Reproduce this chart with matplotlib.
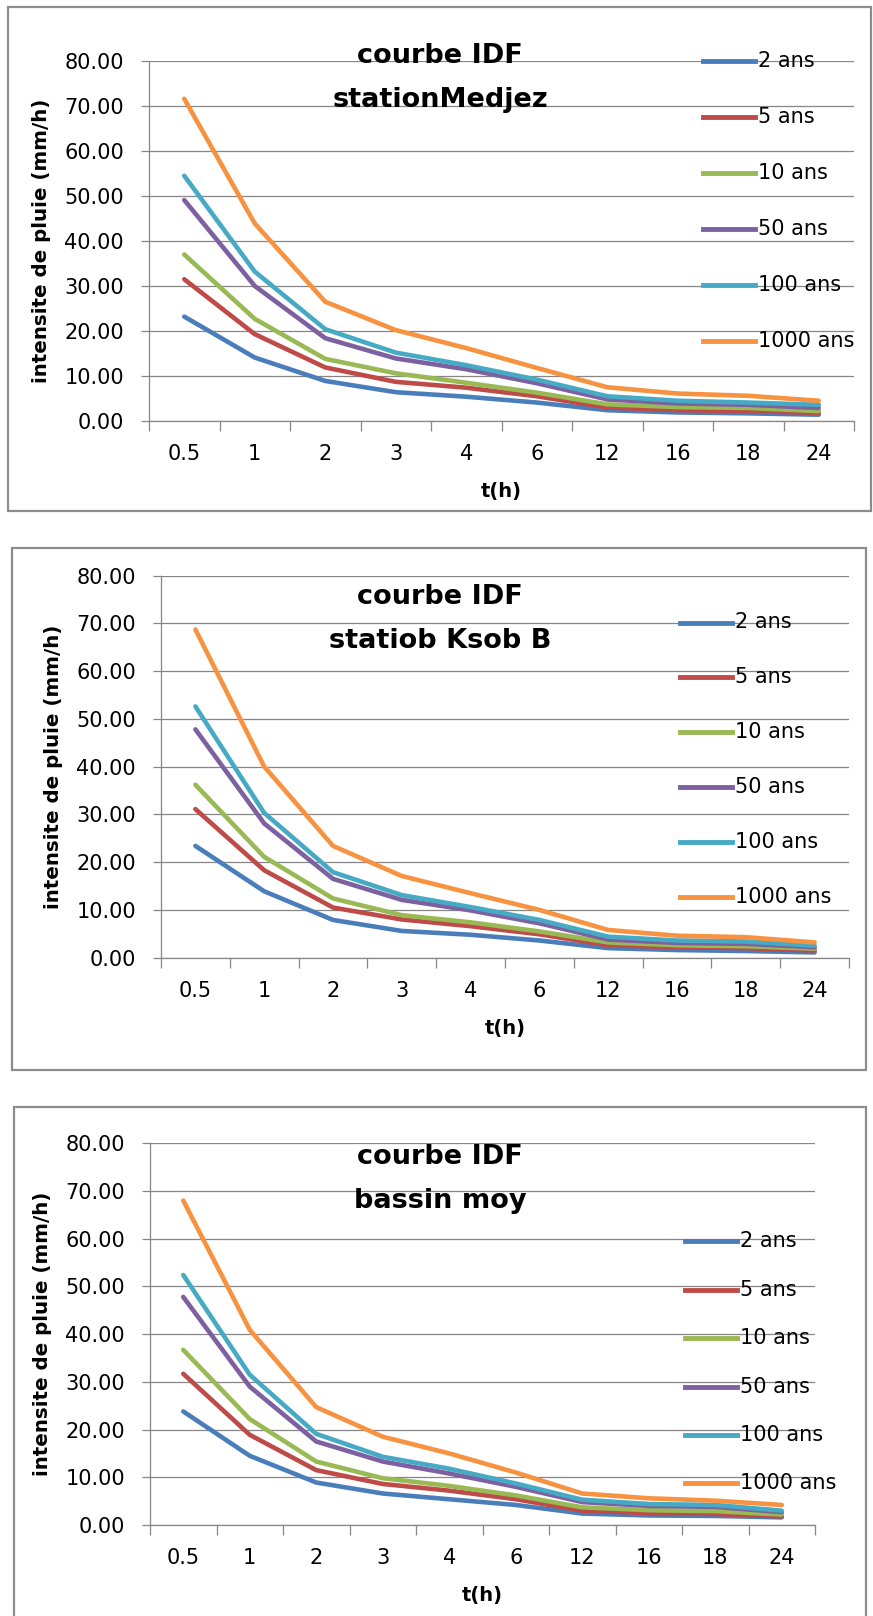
import matplotlib
matplotlib.use('Agg')
import matplotlib.pyplot as plt
from matplotlib.patches import Rectangle
from matplotlib.lines import Line2D
from matplotlib.ticker import FormatStrFormatter
import numpy as np

durations = ['0.5', '1', '2', '3', '4', '6', '12', '16', '18', '24']
periods = ['2 ans', '5 ans', '10 ans', '50 ans', '100 ans', '1000 ans']

medjez = [
    [23.2, 14.1, 8.9, 6.4, 5.4, 4.1, 2.4, 1.9, 1.7, 1.4],
    [31.5, 19.3, 11.9, 8.7, 7.4, 5.5, 3.0, 2.4, 2.2, 1.8],
    [37.0, 22.7, 13.8, 10.6, 8.5, 6.3, 3.7, 3.1, 2.9, 2.2],
    [49.1, 30.0, 18.4, 13.9, 11.5, 8.4, 4.8, 3.9, 3.6, 2.9],
    [54.5, 33.2, 20.4, 15.2, 12.4, 9.2, 5.5, 4.5, 4.1, 3.6],
    [71.6, 43.9, 26.5, 20.2, 16.2, 11.8, 7.5, 6.1, 5.6, 4.5],
]
ksob = [
    [23.4, 13.9, 7.9, 5.6, 4.8, 3.6, 2.0, 1.6, 1.4, 1.1],
    [31.1, 18.3, 10.5, 8.0, 6.6, 4.9, 2.6, 2.2, 2.0, 1.5],
    [36.2, 21.1, 12.4, 8.9, 7.4, 5.5, 3.2, 2.6, 2.4, 1.9],
    [47.8, 28.1, 16.5, 12.1, 9.9, 7.2, 3.8, 3.1, 2.9, 2.2],
    [52.6, 30.3, 17.9, 13.1, 10.6, 7.9, 4.4, 3.6, 3.4, 2.5],
    [68.7, 40.0, 23.4, 17.1, 13.5, 10.0, 5.8, 4.6, 4.3, 3.2],
]
bassin_moy = [
    [23.8, 14.5, 8.9, 6.6, 5.4, 4.2, 2.4, 2.0, 1.9, 1.6],
    [31.7, 18.9, 11.5, 8.6, 7.2, 5.4, 3.0, 2.5, 2.3, 1.8],
    [36.7, 22.2, 13.3, 9.8, 8.2, 6.2, 3.7, 3.1, 2.9, 2.2],
    [47.8, 29.0, 17.5, 13.3, 10.8, 8.0, 4.8, 4.0, 3.8, 2.7],
    [52.4, 31.5, 19.1, 14.3, 11.8, 8.7, 5.3, 4.4, 4.2, 3.0],
    [68.0, 40.9, 24.7, 18.5, 15.0, 11.0, 6.6, 5.6, 5.1, 4.2],
]
titles = [['courbe IDF', 'stationMedjez'],
          ['courbe IDF', 'statiob Ksob B'],
          ['courbe IDF', 'bassin moy']]

colors = ['#4A7EBB', '#BE4B48', '#98B954', '#7D60A0', '#46AAC5', '#F69240']
GRID = '#868686'

W, H = 873, 1616

def fx(x):
    return x / W

def fy(y):
    return 1 - y / H

# positions en pixels: zone de trace, cadre, titre, legende
layout = [
    dict(ax=(149, 61, 854, 421), frame=(8, 7, 871, 511), tit=(63, 107), leg=(703, 61, 56.0)),
    dict(ax=(161, 575.5, 849, 957.7), frame=(12, 548, 866, 1070), tit=(604, 648), leg=(680, 622.5, 54.9)),
    dict(ax=(150, 1143.3, 815, 1525), frame=(14, 1107, 866, 1640), tit=(1164, 1208), leg=(685, 1241.4, 48.4)),
]

fig = plt.figure(figsize=(W / 100, H / 100), dpi=100)

for data, tit, lay in zip([medjez, ksob, bassin_moy], titles, layout):
    l, t, r, b = lay['ax']
    axw, axh = r - l, b - t
    ax = fig.add_axes([fx(l), fy(b), axw / W, axh / H])
    x = np.arange(len(durations))
    for vals, name, col in zip(data, periods, colors):
        ax.plot(x, vals, color=col, lw=3.3, solid_joinstyle='round',
                solid_capstyle='round', label=name)

    ax.set_xlim(-0.5, len(durations) - 0.5)
    ax.set_ylim(0, 80)
    ax.set_yticks(np.arange(0, 81, 10))
    ax.yaxis.set_major_formatter(FormatStrFormatter('%.2f'))
    ax.grid(axis='y', color=GRID, lw=0.9)
    ax.set_axisbelow(True)

    ax.set_xticks(np.arange(-0.5, len(durations), 1))
    ax.set_xticklabels([])
    ax.set_xticks(x, minor=True)
    ax.set_xticklabels(durations, minor=True)
    ax.tick_params(axis='x', which='major', length=7, width=0.9, color=GRID)
    ax.tick_params(axis='x', which='minor', length=0, pad=16.5, labelsize=15)
    ax.tick_params(axis='y', length=6, width=0.9, color=GRID, labelsize=15, pad=12)
    for s in ['top', 'right']:
        ax.spines[s].set_visible(False)
    for s in ['left', 'bottom']:
        ax.spines[s].set_color(GRID)
        ax.spines[s].set_linewidth(0.9)

    ax.set_ylabel('intensite de pluie (mm/h)', fontsize=14.3, fontweight='bold')
    ax.yaxis.set_label_coords(-107 / axw, 0.5)
    ax.yaxis.label.set_va('center')
    ax.set_xlabel('t(h)', fontsize=14, fontweight='bold')
    ax.xaxis.set_label_coords(0.5, -71 / axh)
    ax.xaxis.label.set_va('center')

    # cadre du graphique
    fl, ft, fr, fb = lay['frame']
    fig.add_artist(Rectangle((fx(fl), fy(fb)), (fr - fl) / W, (fb - ft) / H,
                             transform=fig.transFigure, fill=False,
                             ec='#8c8c8c', lw=1.6))

    # titre
    for line, yb in zip(tit, lay['tit']):
        fig.text(fx(440), fy(yb), line, ha='center', va='baseline',
                 fontsize=19.5, fontweight='bold')

    # legende
    lx, ly, pitch = lay['leg']
    for i, (name, col) in enumerate(zip(periods, colors)):
        yy = ly + i * pitch
        fig.add_artist(Line2D([fx(lx), fx(lx + 52)], [fy(yy), fy(yy)],
                              transform=fig.transFigure, color=col, lw=3.5))
        fig.text(fx(lx + 55), fy(yy), name, va='center', fontsize=15)

fig.savefig('out.png', dpi=100)
